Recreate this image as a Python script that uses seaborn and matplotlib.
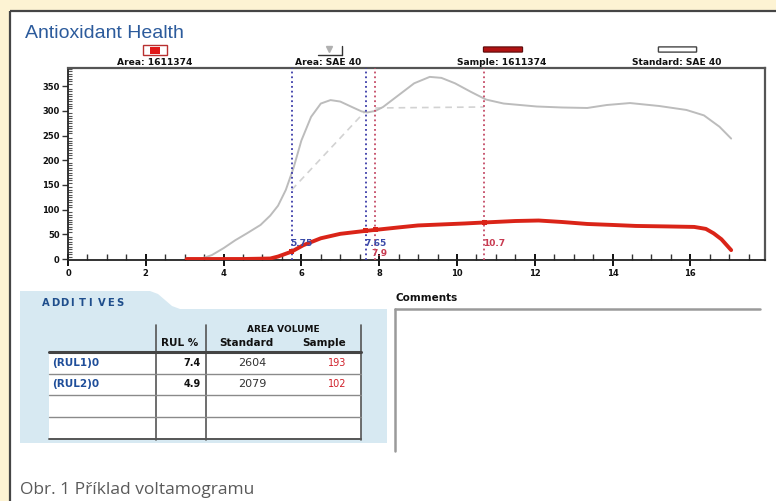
import matplotlib
matplotlib.use("Agg")
import matplotlib.pyplot as plt
import seaborn as sns
import pandas as pd
from matplotlib.patches import Rectangle, Polygon, FancyBboxPatch
from matplotlib.ticker import MultipleLocator

# ---------------- data ----------------
std_x = [3.4, 3.7, 4.0, 4.3, 4.6, 4.95, 5.2, 5.4, 5.6, 5.8, 6.0, 6.25, 6.5, 6.75,
         7.0, 7.3, 7.55, 7.7, 7.9, 8.1, 8.45, 8.9, 9.3, 9.6, 9.95, 10.35, 10.75,
         11.2, 12.05, 12.7, 13.35, 13.85, 14.45, 15.2, 15.9, 16.35, 16.75, 17.05]
std_y = [0, 8, 22, 38, 52, 69, 88, 108, 140, 185, 240, 288, 315, 322,
         319, 308, 299, 297, 300, 308, 329, 356, 369, 367, 356, 339, 323,
         315, 309, 307, 306, 312, 316, 310, 302, 291, 268, 244]

smp_x = [3.05, 4.5, 5.2, 5.4, 5.75, 6.05, 6.5, 7.0, 7.65, 7.9, 8.5, 9.0, 9.6,
         10.2, 10.7, 11.5, 12.1, 12.7, 13.35, 14.0, 14.6, 15.4, 16.1, 16.4,
         16.6, 16.8, 17.05]
smp_y = [0, 0, 1, 5, 15, 28, 42, 51, 57, 59, 64, 68, 70,
         72, 74, 77, 78, 75, 71, 69, 67, 66, 65, 61,
         52, 40, 18]

std_base1_x = [5.75, 7.65]
std_base1_y = [140, 300]
std_base2_x = [7.9, 10.7]
std_base2_y = [306, 308]

area_lines_std = [5.75, 7.65]
area_lines_smp = [7.9, 10.7]
area_labels_std = ["5.75", "7.65"]
area_labels_smp = ["7.9", "10.7"]
marker_x = [5.75, 7.65, 7.9, 10.7]
marker_y = [15, 57, 59, 74]

x_ticks = [0, 2, 4, 6, 8, 10, 12, 14, 16]
y_ticks = [0, 50, 100, 150, 200, 250, 300, 350]

legend_labels = ["Area: 1611374", "Area: SAE 40", "Sample: 1611374", "Standard: SAE 40"]

additive_names = ["(RUL1)0", "(RUL2)0"]
rul_pct = [7.4, 4.9]
std_area = [2604, 2079]
sample_area = [193, 102]

title = "Antioxidant Health"
caption = "Obr. 1 Příklad voltamogramu"

# ---------------- figure ----------------
sns.set_theme(style="white")
plt.rcParams['font.family'] = ['DejaVu Sans']

W, H = 776, 501
fig = plt.figure(figsize=(7.76, 5.01), dpi=100)
fig.patch.set_facecolor('#fdf3d3')

ov = fig.add_axes([0, 0, 1, 1])
ov.set_xlim(0, W)
ov.set_ylim(H, 0)
ov.axis('off')
ov.patch.set_alpha(0)

# white panel with border
ov.add_patch(Rectangle((10, 11), W, H, facecolor='white', edgecolor='none'))
ov.plot([10, 10], [11, H], color='#454545', lw=1.6, solid_capstyle='butt')
ov.plot([10, W], [11, 11], color='#454545', lw=1.6, solid_capstyle='butt')

# title
ov.text(25, 33, title, fontsize=14, color='#2c5b9c', family='Liberation Sans',
        va='center', ha='left')

# legend items
ov.add_patch(Rectangle((143, 45), 24, 10, facecolor='white', edgecolor='#b83030', lw=1))
ov.add_patch(Rectangle((150, 46.5), 10, 7, facecolor='#e01818', edgecolor='none'))
ov.plot([318, 342], [55, 55], color='#333', lw=1)
ov.plot([342, 342], [55, 46], color='#333', lw=1)
ov.plot([329], [49], marker='v', color='#b0b0b0', markersize=4)
ov.add_patch(FancyBboxPatch((484, 47.5), 38, 4, boxstyle="round,pad=0.6",
                            facecolor='#b01212', edgecolor='#5a0a0a', lw=0.8))
ov.add_patch(FancyBboxPatch((659, 47.5), 37, 4, boxstyle="round,pad=0.6",
                            facecolor='white', edgecolor='#444', lw=1))
for cx, lab in zip([155, 328, 502, 677], legend_labels):
    ov.text(cx, 62, lab, fontsize=6.6, fontweight='bold', color='#111',
            ha='center', va='center')

# ---------------- main chart ----------------
ax = fig.add_axes([68 / W, 1 - 259.5 / H, (765 - 68) / W, (259.5 - 68) / H])
ax.set_facecolor('white')

df_std = pd.DataFrame({'x': std_x, 'y': std_y})
df_smp = pd.DataFrame({'x': smp_x, 'y': smp_y})

sns.lineplot(data=df_std, x='x', y='y', ax=ax, color='#bcbcbc', lw=1.4,
             sort=False, estimator=None, zorder=3)
sns.lineplot(x=std_base1_x, y=std_base1_y, ax=ax, color='#d2d2d2', lw=1.2,
             linestyle=(0, (4, 3)), sort=False, estimator=None, zorder=2)
sns.lineplot(x=std_base2_x, y=std_base2_y, ax=ax, color='#d2d2d2', lw=1.2,
             linestyle=(0, (4, 3)), sort=False, estimator=None, zorder=2)

for xv in area_lines_std:
    ax.axvline(xv, color='#3a3aa8', ls=':', lw=1.3, zorder=4)
for xv in area_lines_smp:
    ax.axvline(xv, color='#c44a66', ls=':', lw=1.3, zorder=4)

sns.lineplot(data=df_smp, x='x', y='y', ax=ax, color='#da2418', lw=2.8,
             sort=False, estimator=None, zorder=5)
sns.scatterplot(x=marker_x, y=marker_y, ax=ax, color='#da2418', marker='s',
                s=14, edgecolor='none', zorder=6)

for xv, lab in zip(area_lines_std, area_labels_std):
    ax.text(xv - 0.03, 31, lab, color='#3a4aa8', fontsize=6.5, fontweight='bold',
            ha='left', va='center', zorder=7)
ax.text(area_lines_smp[0] - 0.1, 11, area_labels_smp[0], color='#c83a50', fontsize=6.5,
        fontweight='bold', ha='left', va='center', zorder=3)
ax.text(area_lines_smp[1] - 0.03, 31, area_labels_smp[1], color='#c83a50', fontsize=6.5,
        fontweight='bold', ha='left', va='center', zorder=7)

ax.set_xlim(0, 17.92)
ax.set_ylim(-1, 387)
ax.set_xlabel('')
ax.set_ylabel('')
ax.set_xticks(x_ticks)
ax.set_xticklabels([str(t) for t in x_ticks])
ax.set_yticks(y_ticks)
ax.set_yticklabels([str(t) for t in y_ticks])
ax.xaxis.set_minor_locator(MultipleLocator(0.5))
ax.yaxis.set_minor_locator(MultipleLocator(5))
ax.tick_params(axis='x', which='major', direction='inout', length=9, width=1.4,
               color='#111', labelsize=6, pad=2, bottom=True)
ax.tick_params(axis='x', which='minor', direction='in', length=4, width=1,
               color='#333', bottom=True)
ax.tick_params(axis='y', which='major', direction='out', length=4, width=1,
               color='#333', labelsize=6, pad=2, left=True)
ax.tick_params(axis='y', which='minor', direction='in', length=3, width=0.8,
               color='#555', left=True)
for lab in ax.get_xticklabels() + ax.get_yticklabels():
    lab.set_fontweight('bold')
    lab.set_color('#111')
for s in ['left', 'bottom']:
    ax.spines[s].set_color('#222')
    ax.spines[s].set_linewidth(1.3)
for s in ['top', 'right']:
    ax.spines[s].set_color('#555')
    ax.spines[s].set_linewidth(1.6)
    ax.spines[s].set_visible(True)
ax.grid(False)

# ---------------- additives table ----------------
ov.add_patch(Polygon([(20, 291), (150, 291), (158, 294), (172, 306), (180, 309),
                      (387, 309), (387, 443), (20, 443)], closed=True,
                     facecolor='#d7e9f2', edgecolor='none'))
ov.add_patch(Rectangle((49, 352), 312, 87, facecolor='white', edgecolor='none'))

word = "ADDITIVES"
for i, ch in enumerate(word):
    ov.text(42 + i * 9.3, 303, ch, color='#1f4e8c', fontsize=7.2, fontweight='bold',
            ha='left', va='center')

for xv in [156, 206, 361]:
    ov.plot([xv, xv], [325, 440], color='#555', lw=1.2)
ov.plot([49, 361], [351.5, 351.5], color='#444', lw=2.2)
for yv in [374, 395, 417]:
    ov.plot([49, 361], [yv, yv], color='#8a8a8a', lw=1)
ov.plot([49, 361], [439, 439], color='#555', lw=1.4)

ov.text(283, 329, "AREA VOLUME", fontsize=6.5, fontweight='bold', color='#111',
        ha='center', va='center')
ov.text(180, 343, "RUL %", fontsize=7.5, fontweight='bold', color='#111',
        ha='center', va='center')
ov.text(246, 343, "Standard", fontsize=7.5, fontweight='bold', color='#111',
        ha='center', va='center')
ov.text(324, 343, "Sample", fontsize=7.5, fontweight='bold', color='#111',
        ha='center', va='center')

for i, (nm, rp, sa, sm) in enumerate(zip(additive_names, rul_pct, std_area, sample_area)):
    yv = 363 + i * 21
    ov.text(52, yv, nm, fontsize=7.5, fontweight='bold', color='#1f4e9a',
            ha='left', va='center')
    ov.text(201, yv, f"{rp:.1f}", fontsize=7, fontweight='bold', color='#111',
            ha='right', va='center')
    ov.text(252, yv, f"{sa}", fontsize=8, color='#333', ha='center', va='center')
    ov.text(346, yv, f"{sm}", fontsize=7, color='#d0202a', ha='right', va='center')

# ---------------- comments ----------------
ov.text(395, 298, "Comments", fontsize=7.5, fontweight='bold', color='#111',
        ha='left', va='center')
ov.plot([395, 760], [309, 309], color='#9a9a9a', lw=1.8)
ov.plot([395, 395], [309, 451], color='#9a9a9a', lw=1.8)

# ---------------- caption ----------------
ov.text(20, 490, caption, fontsize=12.5, color='#5a5a5a', family='Open Sans',
        ha='left', va='center')

fig.savefig('out.png', dpi=100, facecolor=fig.get_facecolor())
